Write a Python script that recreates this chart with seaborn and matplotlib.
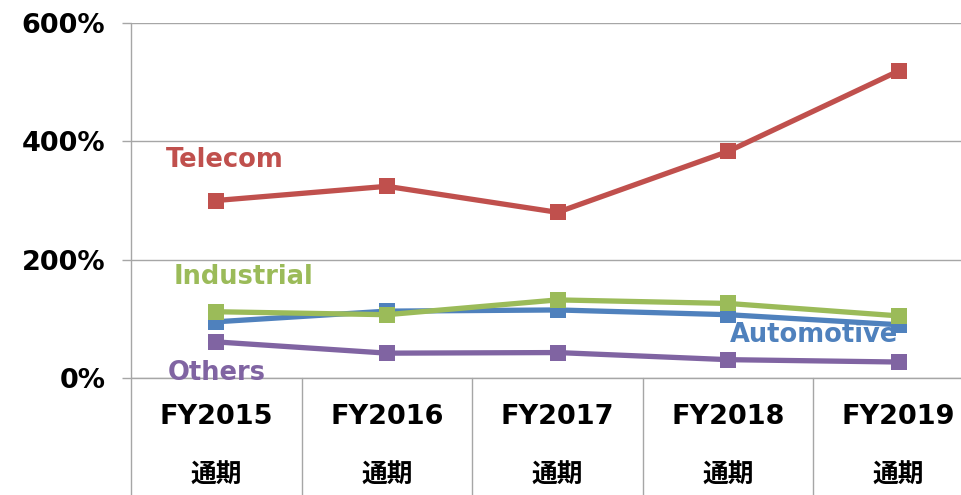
import matplotlib
matplotlib.use("Agg")
import matplotlib.pyplot as plt
import matplotlib.transforms as mtransforms
import seaborn as sns
import pandas as pd

years = ["FY2015", "FY2016", "FY2017", "FY2018", "FY2019"]
period = ["通期", "通期", "通期", "通期", "通期"]
telecom = [300, 324, 280, 383, 519]
automotive = [95, 113, 115, 107, 90]
industrial = [112, 107, 132, 126, 105]
others = [61, 42, 43, 31, 27]
yticks = [0, 200, 400, 600]

series_names = ["Telecom", "Others", "Automotive", "Industrial"]
series_vals = [telecom, others, automotive, industrial]
colors = {"Telecom": "#C0504D", "Automotive": "#4F81BD",
          "Industrial": "#9BBB59", "Others": "#8064A2"}

sns.set_theme(style="white")
plt.rcParams['font.family'] = ['DejaVu Sans', 'Noto Sans CJK JP']

fig = plt.figure(figsize=(9.62, 4.95), dpi=100)
ax = fig.add_axes([131 / 962, (495 - 378) / 495, 853 / 962, 355 / 495])

for name, vals in zip(series_names, series_vals):
    df = pd.DataFrame({"x": list(range(len(years))), "y": vals})
    sns.lineplot(data=df, x="x", y="y", ax=ax, color=colors[name], linewidth=3.8,
                 marker="s", markersize=12, markeredgewidth=0, legend=False,
                 clip_on=False, zorder=3)

ax.set_xlim(-0.5, len(years) - 0.5)
ax.set_ylim(0, 600)
ax.set_yticks(yticks)
ax.set_yticklabels([f"{v}%" for v in yticks], fontsize=19.5, fontweight="bold", color="black")
ax.set_xticks([])
ax.set_xlabel("")
ax.set_ylabel("")
ax.yaxis.grid(True, color="#A6A6A6", linewidth=1.0)
ax.set_axisbelow(True)
ax.tick_params(axis="y", which="major", length=6.5, width=1.0, color="#A6A6A6",
               left=True, pad=12)
for s in ["top", "right", "bottom", "left"]:
    ax.spines[s].set_visible(False)

# baseline at 0%
ax.axhline(0, color="#A6A6A6", linewidth=1.0, clip_on=False, zorder=1)

# category separators (multi-level axis frame)
for i in range(len(years) + 1):
    ax.axvline(i - 0.5, ymin=-0.34, ymax=0 if i > 0 else 1, color="#A6A6A6",
               linewidth=1.0, clip_on=False, zorder=1)

trans = mtransforms.blended_transform_factory(ax.transData, ax.transAxes)
for i, (yr, pr) in enumerate(zip(years, period)):
    ax.text(i, -0.11, yr, transform=trans, ha="center", va="center",
            fontsize=19.5, fontweight="bold", color="black")
    ax.text(i, -0.275, pr, transform=trans, ha="center", va="center",
            fontsize=18.5, fontweight="bold", color="black",
            family=['Noto Sans CJK JP', 'DejaVu Sans'])

# series labels
lab_kw = dict(fontsize=18.5, fontweight="bold", va="center")
ax.text(-0.295, 369, "Telecom", color=colors["Telecom"], ha="left", **lab_kw)
ax.text(-0.25, 170, "Industrial", color=colors["Industrial"], ha="left", **lab_kw)
ax.text(3.01, 73, "Automotive", color=colors["Automotive"], ha="left", **lab_kw)
ax.text(-0.285, 8, "Others", color=colors["Others"], ha="left", **lab_kw)

fig.savefig("out.png", dpi=100)
